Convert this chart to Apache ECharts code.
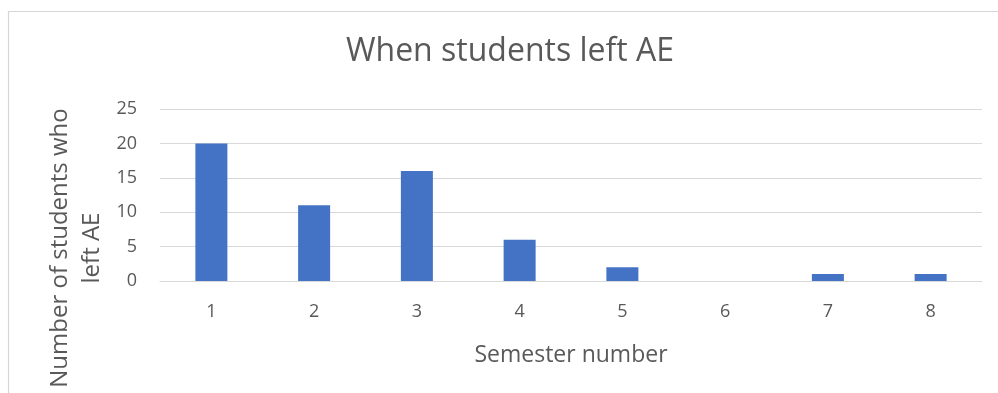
<!DOCTYPE html>
<html>
<head>
<meta charset="utf-8">
<script src="https://cdn.jsdelivr.net/npm/echarts@6/dist/echarts.min.js"></script>
<style>
  html, body { margin: 0; padding: 0; background: #ffffff; }
  #chart { width: 998px; height: 393px; }
</style>
</head>
<body>
<div id="chart"></div>
<script>
// Semester in which students left the AE programme
const semesters = ['1', '2', '3', '4', '5', '6', '7', '8'];
const studentsLeft = [20, 11, 16, 6, 2, 0, 1, 1];
const yTicks = { min: 0, max: 25, step: 5 };

const titleText = 'When students left AE';
const xTitle = 'Semester number';
const yTitle = 'Number of students who\nleft AE';

const FONT = '"Open Sans", sans-serif';
const TEXT = '#595959';
const GRID = '#d9d9d9';

const chart = echarts.init(document.getElementById('chart'), null, { renderer: 'canvas' });

chart.setOption({
  animation: false,
  backgroundColor: '#ffffff',
  title: {
    text: titleText,
    left: 505,
    top: 31,
    textAlign: 'center',
    textStyle: { fontFamily: FONT, fontSize: 32, fontWeight: 'normal', color: TEXT }
  },
  grid: { left: 160, right: 16, top: 109, bottom: 112, containLabel: false },
  xAxis: {
    type: 'category',
    data: semesters,
    axisLine: { show: true, lineStyle: { color: GRID, width: 1 } },
    axisTick: { show: false },
    axisLabel: { color: TEXT, fontFamily: FONT, fontSize: 18, margin: 22 },
    name: xTitle,
    nameLocation: 'middle',
    nameGap: 63,
    nameTextStyle: { color: TEXT, fontFamily: FONT, fontSize: 23 }
  },
  yAxis: {
    type: 'value',
    min: yTicks.min,
    max: yTicks.max,
    interval: yTicks.step,
    axisLine: { show: false },
    axisTick: { show: false },
    splitLine: { lineStyle: { color: GRID, width: 1 } },
    axisLabel: { color: TEXT, fontFamily: FONT, fontSize: 18, margin: 23 }
  },
  series: [{
    type: 'bar',
    data: studentsLeft,
    barWidth: 32,
    itemStyle: { color: '#4472C4' }
  }],
  graphic: [
    {
      type: 'rect',
      left: 6,
      top: 9,
      shape: { x: 0.5, y: 0.5, width: 1100, height: 600 },
      style: { fill: 'none', stroke: '#d6d6d6', lineWidth: 1.2 },
      silent: true,
      z: -1
    },
    {
      type: 'text',
      x: 76,
      y: 248,
      rotation: Math.PI / 2,
      style: {
        text: yTitle,
        fill: TEXT,
        font: '24px "Open Sans", sans-serif',
        textAlign: 'center',
        textVerticalAlign: 'middle',
        lineHeight: 32
      },
      silent: true
    }
  ]
});
</script>
</body>
</html>
